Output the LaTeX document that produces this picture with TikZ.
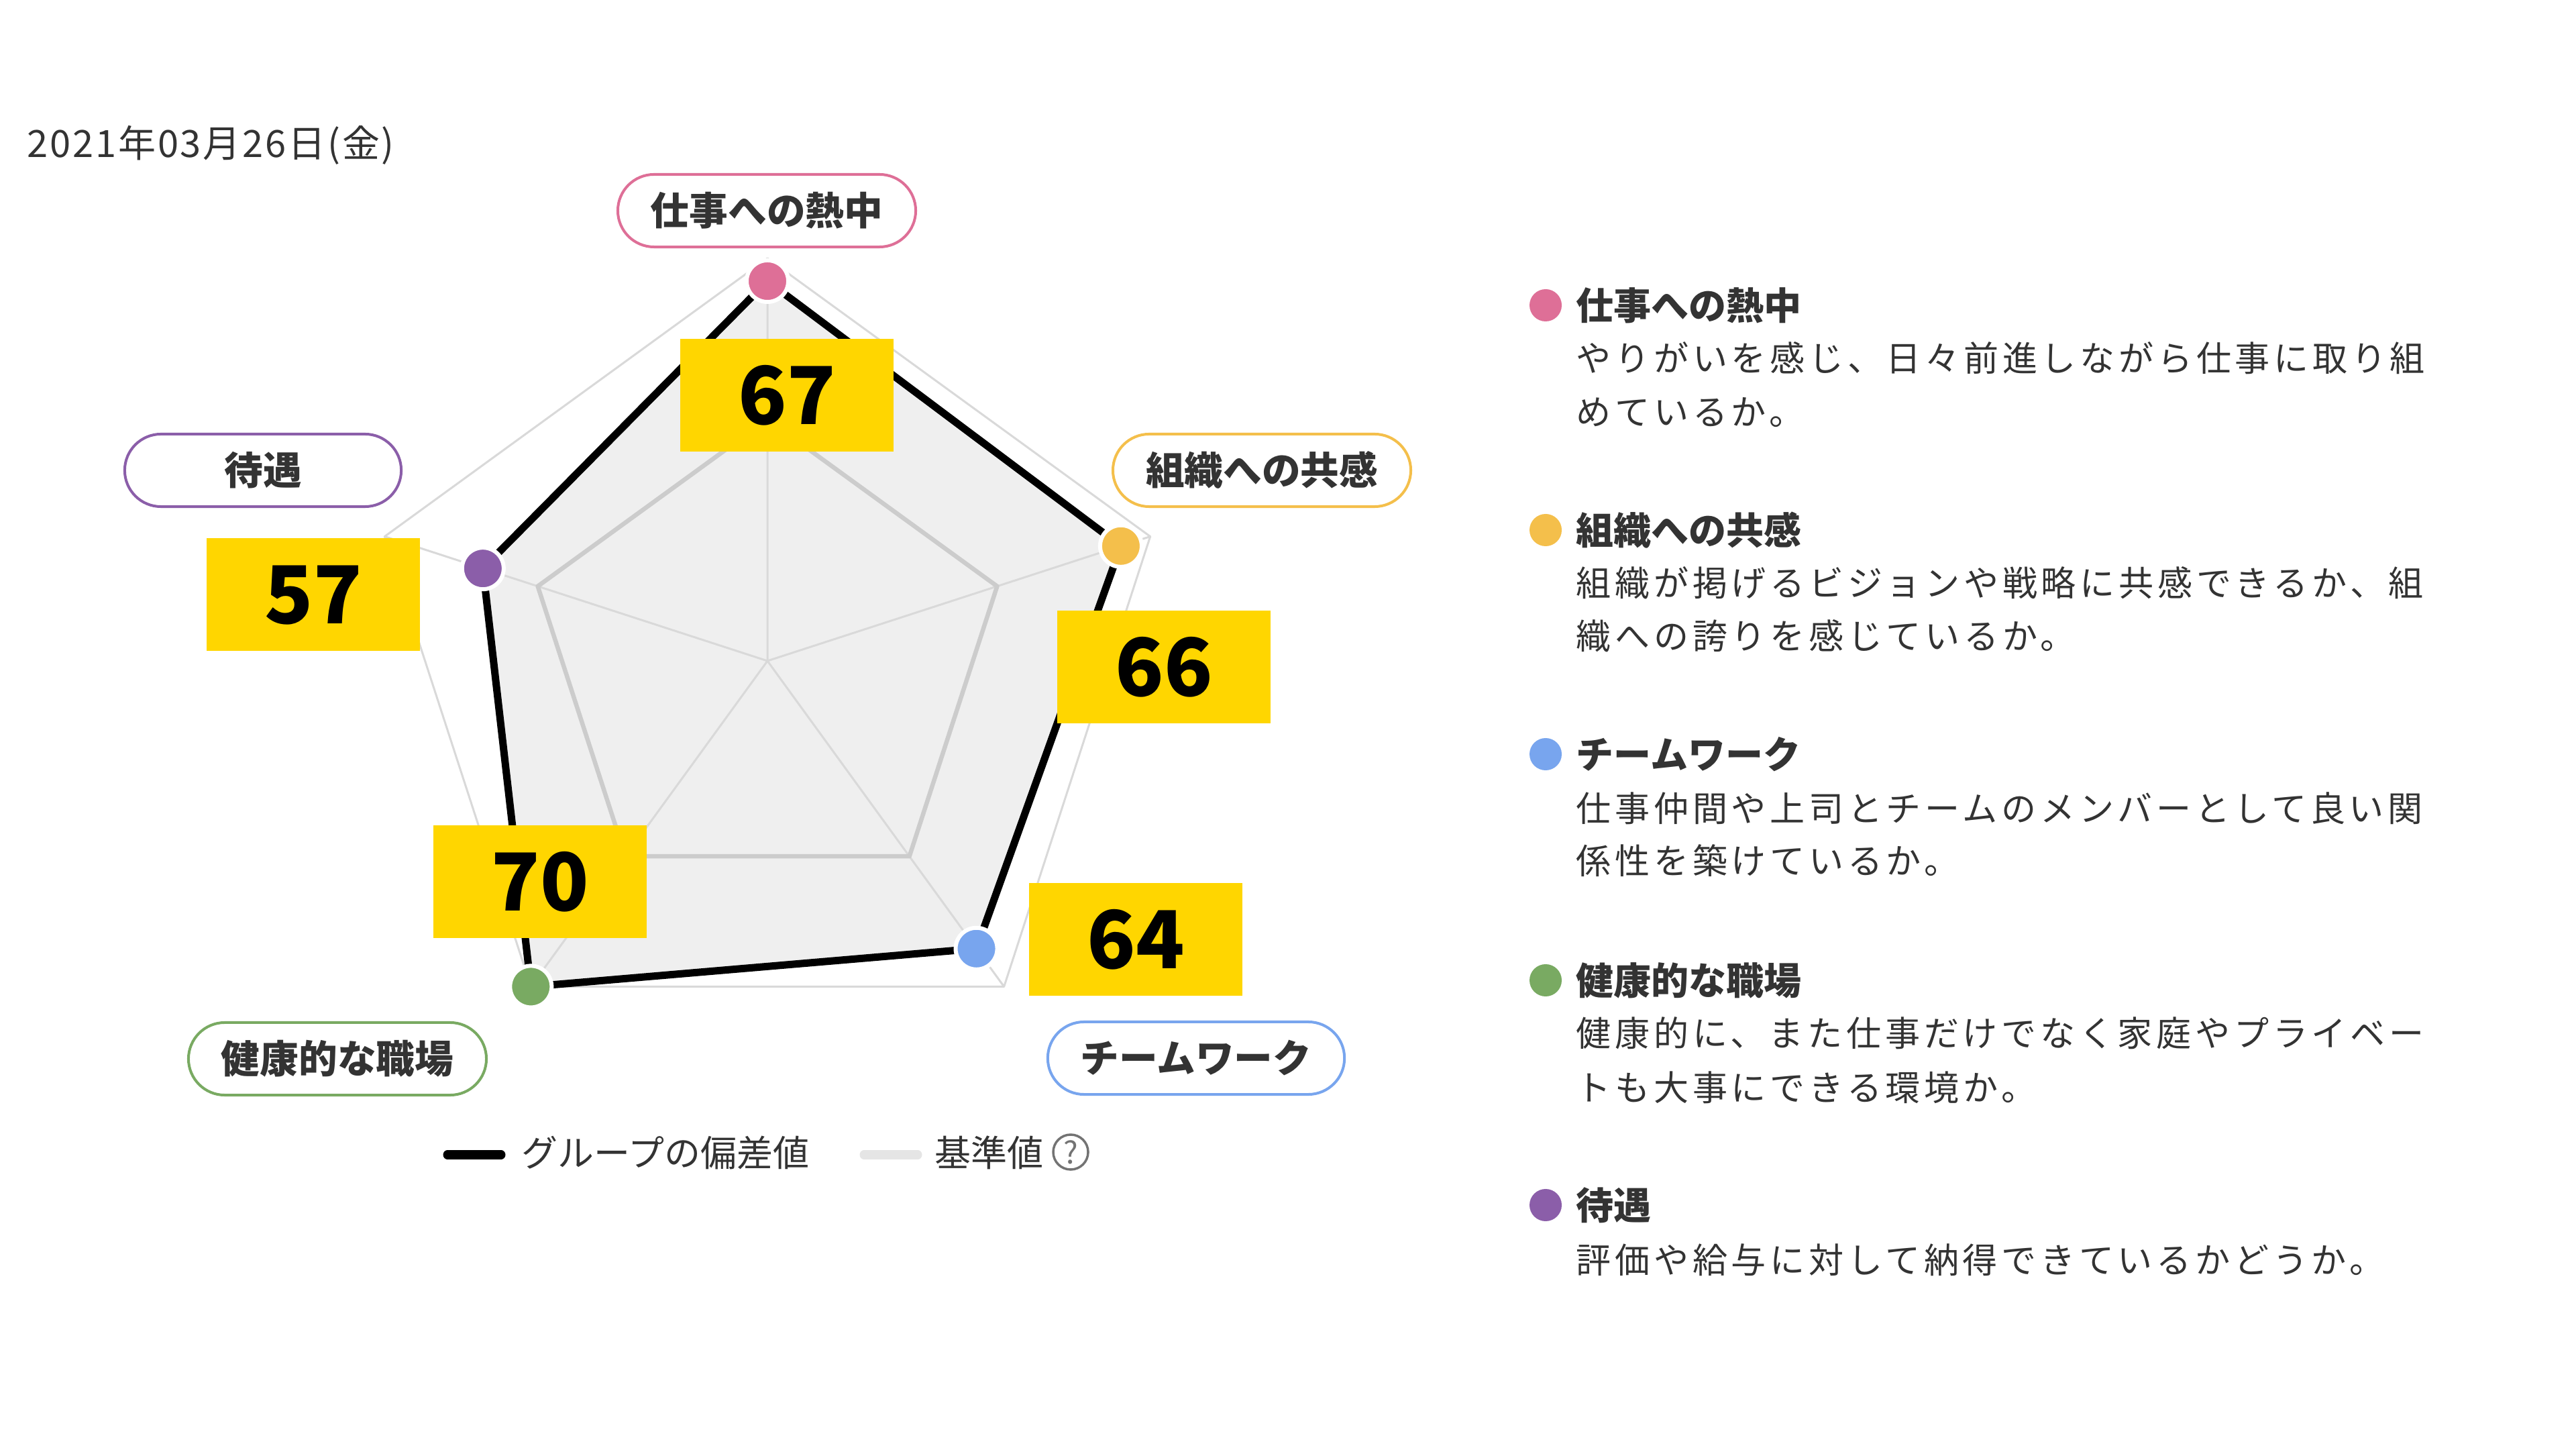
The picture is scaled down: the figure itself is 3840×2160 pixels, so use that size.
\documentclass[tikz,border=0pt]{standalone}
\usepackage{fontspec}
\setmainfont{Noto Sans CJK JP}
\newfontfamily\descfont{Noto Sans CJK JP}[LetterSpace=11]
\newfontfamily\datefont{Noto Sans CJK JP}[LetterSpace=5]

\definecolor{pinkc}{HTML}{DE6F97}
\definecolor{orangec}{HTML}{F4BF4B}
\definecolor{bluec}{HTML}{78A5EE}
\definecolor{greenc}{HTML}{79AA62}
\definecolor{purplec}{HTML}{8B5EA9}
\definecolor{boxyellow}{HTML}{FFD600}
\definecolor{areagray}{HTML}{EFEFEF}
\definecolor{basegray}{HTML}{CCCCCC}
\definecolor{gridgray}{HTML}{D9D9D9}
\definecolor{textgray}{HTML}{333333}

\tikzset{
  pill/.style={draw=#1, fill=white, line width=0.04cm, rounded corners=0.54cm,
    minimum width=4.12cm, minimum height=1.08cm, inner xsep=0.49cm, inner ysep=0pt,
    text height=12.5pt, text depth=0pt, text=textgray,
    font=\fontsize{16.4pt}{19pt}\selectfont\bfseries},
  score/.style={fill=boxyellow, minimum width=3.17cm, minimum height=1.68cm, inner sep=0pt,
    text height=24.8pt, text depth=0pt, font=\fontsize{33.9pt}{40pt}\selectfont\bfseries},
  dot/.style={circle, fill=#1, draw=white, line width=0.06cm, minimum size=0.62cm, inner sep=0pt},
  keydot/.style={circle, fill=#1, minimum size=0.48cm, inner sep=0pt},
  keytitle/.style={anchor=west, inner sep=0pt, text height=12.1pt, text depth=0pt, text=textgray,
    font=\fontsize{15.93pt}{18pt}\selectfont\bfseries},
  keytext/.style={anchor=west, inner sep=0pt, text height=11.25pt, text depth=0pt, text=textgray,
    font=\descfont\fontsize{14.8pt}{18pt}\selectfont},
  legendtext/.style={anchor=west, inner sep=0pt, text height=11.7pt, text depth=0pt, text=textgray,
    font=\fontsize{15.36pt}{18pt}\selectfont}
}

\begin{document}
\begin{tikzpicture}[x=0.01cm, y=0.01cm]
  \useasboundingbox (0,0) rectangle (3840,2160);
  \fill[white] (0,0) rectangle (3840,2160);

  \node[anchor=west, inner sep=0pt, text height=11.7pt, text depth=0pt, text=textgray,
    font=\datefont\fontsize{15.93pt}{19pt}\selectfont] (date) at (40,1946) {2021年03月26日(金)};

  \begin{scope}[shift={(1144,1175)}]
    \coordinate (c) at (0,0);
    \coordinate (o1) at (90:600);
    \coordinate (o2) at (18:600);
    \coordinate (o3) at (-54:600);
    \coordinate (o4) at (-126:600);
    \coordinate (o5) at (162:600);
    \coordinate (b1) at (90:360);
    \coordinate (b2) at (18:360);
    \coordinate (b3) at (-54:360);
    \coordinate (b4) at (-126:360);
    \coordinate (b5) at (162:360);
    \coordinate (p1) at (90:566);
    \coordinate (p2) at (18:554);
    \coordinate (p3) at (-54:530);
    \coordinate (p4) at (-126:600);
    \coordinate (p5) at (162:446);
  \end{scope}

  \fill[areagray] (p1) -- (p2) -- (p3) -- (p4) -- (p5) -- cycle;
  \draw[gridgray, line width=0.03cm, line join=round] (o1) -- (o2) -- (o3) -- (o4) -- (o5) -- cycle;
  \draw[gridgray, line width=0.03cm] (c) -- (o1) (c) -- (o2) (c) -- (o3) (c) -- (o4) (c) -- (o5);
  \draw[basegray, line width=0.065cm, line join=round] (b1) -- (b2) -- (b3) -- (b4) -- (b5) -- cycle;
  \draw[black, line width=0.11cm, line join=round] (p1) -- (p2) -- (p3) -- (p4) -- (p5) -- cycle;

  \node[dot=pinkc] (d1) at (p1) {};
  \node[dot=orangec] (d2) at (p2) {};
  \node[dot=bluec] (d3) at (p3) {};
  \node[dot=greenc] (d4) at (p4) {};
  \node[dot=purplec] (d5) at (p5) {};

  \node[score] (s1) at (1173,1571) {67};
  \node[score] (s2) at (1735,1166) {66};
  \node[score] (s3) at (1693,760) {64};
  \node[score] (s4) at (805,846) {70};
  \node[score] (s5) at (467,1274) {57};

  \node[pill=pinkc] (l1) at (1143,1846) {仕事への熱中};
  \node[pill=orangec] (l2) at (1881,1459) {組織への共感};
  \node[pill=bluec] (l3) at (1783,583) {チームワーク};
  \node[pill=greenc] (l4) at (503,582) {健康的な職場};
  \node[pill=purplec] (l5) at (392,1459) {待遇};

  \draw[black, line width=0.13cm, line cap=round] (667,439) -- (747,439);
  \node[legendtext] (g1) at (777,442) {グループの偏差値};
  \draw[black!10, line width=0.13cm, line cap=round] (1288,439) -- (1368,439);
  \node[legendtext] (g2) at (1393,442) {基準値};
  \node[circle, draw=black!55, line width=0.035cm, minimum size=0.52cm, inner sep=0pt,
    text=black!55, font=\fontsize{13pt}{14pt}\selectfont] (help) at (1596,443) {?};

  \node[keydot=pinkc] (k1) at (2304,1705) {};
  \node[keytitle] (t1) at (2349,1705) {仕事への熱中};
  \node[keytext] (e1a) at (2349,1626) {やりがいを感じ、日々前進しながら仕事に取り組};
  \node[keytext] (e1b) at (2349,1546) {めているか。};

  \node[keydot=orangec] (k2) at (2304,1370) {};
  \node[keytitle] (t2) at (2349,1370) {組織への共感};
  \node[keytext] (e2a) at (2349,1291) {組織が掲げるビジョンや戦略に共感できるか、組};
  \node[keytext] (e2b) at (2349,1212) {織への誇りを感じているか。};

  \node[keydot=bluec] (k3) at (2304,1036) {};
  \node[keytitle] (t3) at (2349,1036) {チームワーク};
  \node[keytext] (e3a) at (2349,955) {仕事仲間や上司とチームのメンバーとして良い関};
  \node[keytext] (e3b) at (2349,877) {係性を築けているか。};

  \node[keydot=greenc] (k4) at (2304,699) {};
  \node[keytitle] (t4) at (2349,699) {健康的な職場};
  \node[keytext] (e4a) at (2349,620) {健康的に、また仕事だけでなく家庭やプライベー};
  \node[keytext] (e4b) at (2349,539) {トも大事にできる環境か。};

  \node[keydot=purplec] (k5) at (2304,364) {};
  \node[keytitle] (t5) at (2349,364) {待遇};
  \node[keytext] (e5a) at (2349,282) {評価や給与に対して納得できているかどうか。};
\end{tikzpicture}
\end{document}
